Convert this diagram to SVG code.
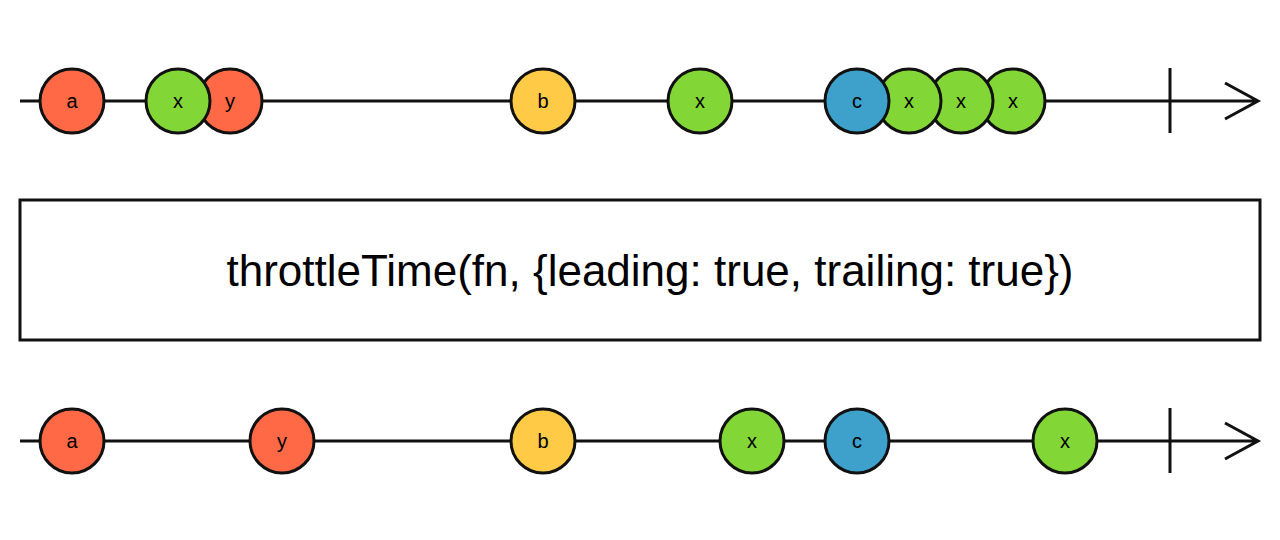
<svg xmlns="http://www.w3.org/2000/svg" width="1280" height="540" viewBox="0 0 1280 540">
<style>
.l{stroke:#111;stroke-width:3;fill:none}
.m{stroke:#111;stroke-width:3}
.r{fill:#FF6946}.g{fill:#82D736}.y{fill:#FFCB46}.b{fill:#3EA1CB}
text{font-family:"Liberation Sans",Arial,sans-serif;fill:#000;text-anchor:middle}
.t{font-size:20px}
</style>
<rect width="1280" height="540" fill="#fff"/>
<g id="connectors">
<path class="l" d="M20 101H1258M1170 68V133M1225 83L1258 101L1225 119"/>
<path class="l" d="M20 441H1258M1170 408V473M1225 423L1258 441L1225 459"/>
</g>
<g id="operator"><rect x="20" y="200" width="1240" height="140" fill="#fff" class="m"/>
<text x="650" y="286" style="font-size:44px">throttleTime(fn, {leading: true, trailing: true})</text></g>
<g id="input">
<g id="in9"><circle class="m g" cx="1013" cy="101" r="32"/><text class="t" x="1013" y="108">x</text></g>
<g id="in8"><circle class="m g" cx="961" cy="101" r="32"/><text class="t" x="961" y="108">x</text></g>
<g id="in7"><circle class="m g" cx="909" cy="101" r="32"/><text class="t" x="909" y="108">x</text></g>
<g id="in6"><circle class="m b" cx="857" cy="101" r="32"/><text class="t" x="857" y="108">c</text></g>
<g id="in5"><circle class="m g" cx="700" cy="101" r="32"/><text class="t" x="700" y="108">x</text></g>
<g id="in4"><circle class="m y" cx="543" cy="101" r="32"/><text class="t" x="543" y="108">b</text></g>
<g id="in3"><circle class="m r" cx="230" cy="101" r="32"/><text class="t" x="230" y="108">y</text></g>
<g id="in2"><circle class="m g" cx="178" cy="101" r="32"/><text class="t" x="178" y="108">x</text></g>
<g id="in1"><circle class="m r" cx="72" cy="101" r="32"/><text class="t" x="72" y="108">a</text></g>
</g>
<g id="output">
<g id="out1"><circle class="m r" cx="72" cy="441" r="32"/><text class="t" x="72" y="448">a</text></g>
<g id="out2"><circle class="m r" cx="282" cy="441" r="32"/><text class="t" x="282" y="448">y</text></g>
<g id="out3"><circle class="m y" cx="543" cy="441" r="32"/><text class="t" x="543" y="448">b</text></g>
<g id="out4"><circle class="m g" cx="752" cy="441" r="32"/><text class="t" x="752" y="448">x</text></g>
<g id="out5"><circle class="m b" cx="857" cy="441" r="32"/><text class="t" x="857" y="448">c</text></g>
<g id="out6"><circle class="m g" cx="1065" cy="441" r="32"/><text class="t" x="1065" y="448">x</text></g>
</g>
</svg>
